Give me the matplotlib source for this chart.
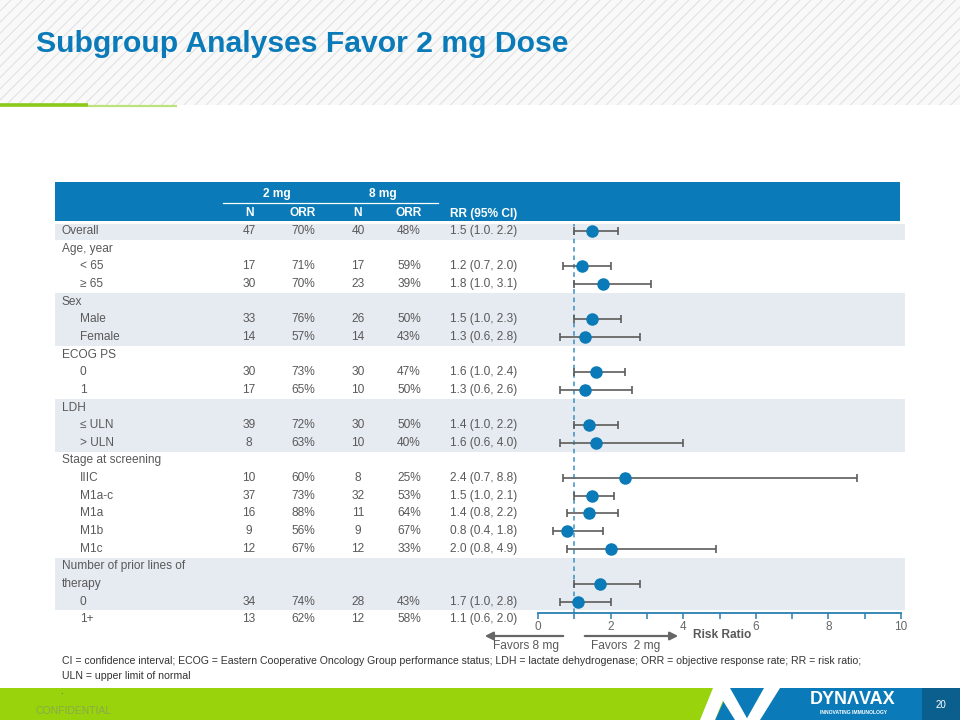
import matplotlib.pyplot as plt
from matplotlib.patches import Rectangle, Polygon

plt.rcParams['font.family'] = ['Liberation Sans', 'DejaVu Sans']
plt.rcParams['hatch.linewidth'] = 0.8

# ---- data ----
labels = ["Overall", "Age, year", "< 65", "\u2265 65", "Sex", "Male", "Female",
          "ECOG PS", "0", "1", "LDH", "\u2264 ULN", "> ULN", "Stage at screening",
          "IIIC", "M1a-c", "M1a", "M1b", "M1c",
          "Number of prior lines of\ntherapy", "0", "1+"]
sub = [0, 0, 1, 1, 0, 1, 1, 0, 1, 1, 0, 1, 1, 0, 1, 1, 1, 1, 1, 0, 1, 1]
n_2mg = [47, None, 17, 30, None, 33, 14, None, 30, 17, None, 39, 8, None,
         10, 37, 16, 9, 12, None, 34, 13]
orr_2mg = [70, None, 71, 70, None, 76, 57, None, 73, 65, None, 72, 63, None,
           60, 73, 88, 56, 67, None, 74, 62]
n_8mg = [40, None, 17, 23, None, 26, 14, None, 30, 10, None, 30, 10, None,
         8, 32, 11, 9, 12, None, 28, 12]
orr_8mg = [48, None, 59, 39, None, 50, 43, None, 47, 50, None, 50, 40, None,
           25, 53, 64, 67, 33, None, 43, 58]
rr = [1.5, None, 1.2, 1.8, None, 1.5, 1.3, None, 1.6, 1.3, None, 1.4, 1.6, None,
      2.4, 1.5, 1.4, 0.8, 2.0, None, 1.7, 1.1]
rr_lo = [1.0, None, 0.7, 1.0, None, 1.0, 0.6, None, 1.0, 0.6, None, 1.0, 0.6, None,
         0.7, 1.0, 0.8, 0.4, 0.8, None, 1.0, 0.6]
rr_hi = [2.2, None, 2.0, 3.1, None, 2.3, 2.8, None, 2.4, 2.6, None, 2.2, 4.0, None,
         8.8, 2.1, 2.2, 1.8, 4.9, None, 2.8, 2.0]
rr_text = ["1.5 (1.0. 2.2)", "", "1.2 (0.7, 2.0)", "1.8 (1.0, 3.1)", "",
           "1.5 (1.0, 2.3)", "1.3 (0.6, 2.8)", "", "1.6 (1.0, 2.4)", "1.3 (0.6, 2.6)",
           "", "1.4 (1.0, 2.2)", "1.6 (0.6, 4.0)", "", "2.4 (0.7, 8.8)",
           "1.5 (1.0, 2.1)", "1.4 (0.8, 2.2)", "0.8 (0.4, 1.8)", "2.0 (0.8, 4.9)",
           "", "1.7 (1.0, 2.8)", "1.1 (0.6, 2.0)"]
x_ticks = [0, 1, 2, 3, 4, 5, 6, 7, 8, 9, 10]

W, H = 960, 720
BLUE = '#0a7bb8'
DARKBLUE = '#0b5f8e'
GREEN = '#98d30c'
SHADE = '#e6eaf1'
TXT = '#595959'
PITCH = 17.65      # px per table line
ROW0 = 231         # px of first row


def px_box(x0, y0, x1, y1):
    return [x0 / W, 1 - y1 / H, (x1 - x0) / W, (y1 - y0) / H]


def to_row(py):
    return (py - ROW0) / PITCH


fig = plt.figure(figsize=(9.6, 7.2), dpi=100)

# slide background (pixel coordinates)
bg = fig.add_axes([0, 0, 1, 1])
bg.set_xlim(0, W)
bg.set_ylim(H, 0)
bg.axis('off')
bg.add_patch(Rectangle((0, 0), W, 105, facecolor='#f9f9f9', edgecolor='#e2e2e2',
                       hatch='///', linewidth=0))
bg.plot([0, 88], [104.5, 104.5], color='#8cc919', lw=2.6, solid_capstyle='butt')
bg.plot([88, 177], [105.5, 105.5], color='#bde27a', lw=1.6, solid_capstyle='butt')
bg.text(36, 52, "Subgroup Analyses Favor 2 mg Dose", fontsize=21.7, fontweight='bold',
        color=BLUE, va='baseline', ha='left')

# table header
bg.add_patch(Rectangle((55, 182), 845, 39, facecolor=BLUE, edgecolor='none'))
bg.text(277, 194, "2 mg", color='white', fontsize=8.6, fontweight='bold', ha='center', va='center')
bg.text(383, 194, "8 mg", color='white', fontsize=8.6, fontweight='bold', ha='center', va='center')
bg.plot([223, 438], [203, 203], color='white', lw=0.9)
for hx, ht in [(249, "N"), (303, "ORR"), (358, "N"), (409, "ORR")]:
    bg.text(hx, 213.5, ht, color='white', fontsize=8.6, fontweight='bold', ha='center', va='center')
bg.text(450, 213.5, "RR (95% CI)", color='white', fontsize=8.6, fontweight='bold', ha='left', va='center')

# table body (row units)
tab = fig.add_axes(px_box(55, 224, 905, 628.5))
tab.set_xlim(55, 905)
tab.set_ylim(to_row(628.5), to_row(224))
tab.axis('off')
tab.patch.set_alpha(0)

# shading: alternate groups, spans counted in data rows
starts = [i for i, s in enumerate(sub) if s == 0] + [len(labels)]
for g in range(0, len(starts) - 1, 2):
    tab.axhspan(starts[g] - 0.5, starts[g + 1] - 0.5, color=SHADE, lw=0)

line = 0
for i, lab in enumerate(labels):
    parts = lab.split('\n')
    for k, part in enumerate(parts):
        tab.text(80 if sub[i] else 62, line + k, part, fontsize=8.6, color=TXT,
                 ha='left', va='center')
    line += len(parts) - 1
    if n_2mg[i] is not None:
        tab.text(249, line, str(n_2mg[i]), fontsize=8.6, color=TXT, ha='center', va='center')
        tab.text(303, line, f"{orr_2mg[i]}%", fontsize=8.6, color=TXT, ha='center', va='center')
        tab.text(358, line, str(n_8mg[i]), fontsize=8.6, color=TXT, ha='center', va='center')
        tab.text(409, line, f"{orr_8mg[i]}%", fontsize=8.6, color=TXT, ha='center', va='center')
        tab.text(450, line, rr_text[i], fontsize=8.6, color=TXT, ha='left', va='center')
    line += 1

# forest plot
ax = fig.add_axes(px_box(538, 224, 901, 613))
ax.patch.set_alpha(0)
ax.set_xlim(0, 10)
ax.set_ylim(to_row(613), to_row(224))
ys = [i for i in range(len(rr)) if rr[i] is not None]
xv = [rr[i] for i in ys]
err = [[rr[i] - rr_lo[i] for i in ys], [rr_hi[i] - rr[i] for i in ys]]
ax.axvline(1, color='#3b8fc0', lw=1.1, ls=(0, (3, 2.5)), zorder=1)
ax.errorbar(xv, ys, xerr=err, fmt='none', ecolor='#5c5c5c', elinewidth=1.2,
            capsize=2.6, capthick=1.2, zorder=2)
ax.plot(xv, ys, 'o', color=BLUE, markersize=8, zorder=3)
for s in ['top', 'right', 'left']:
    ax.spines[s].set_visible(False)
ax.spines['bottom'].set_color('#2b7fb0')
ax.spines['bottom'].set_linewidth(1.3)
ax.set_yticks([])
ax.set_xticks(x_ticks)
ax.set_xticklabels([str(t) if t % 2 == 0 else '' for t in x_ticks])
ax.tick_params(axis='x', direction='out', length=4, width=1.1, color='#2b7fb0',
               labelcolor='#666666', labelsize=8.5, pad=1.5)

# favors arrows and axis title
bg.annotate('', xy=(482, 636), xytext=(566, 636),
            arrowprops=dict(arrowstyle='-|>', color='#666666', lw=1.6, mutation_scale=12))
bg.annotate('', xy=(681, 636), xytext=(582, 636),
            arrowprops=dict(arrowstyle='-|>', color='#666666', lw=1.6, mutation_scale=12))
bg.text(526, 646, "Favors 8 mg", fontsize=8.6, color=TXT, ha='center', va='center')
bg.text(626, 646, "Favors  2 mg", fontsize=8.6, color=TXT, ha='center', va='center')
bg.text(722, 635, "Risk Ratio", fontsize=8.6, color=TXT, fontweight='bold', ha='center', va='center')

# footnote
bg.text(62, 661, "CI = confidence interval; ECOG = Eastern Cooperative Oncology Group performance "
        "status; LDH = lactate dehydrogenase; ORR = objective response rate; RR = risk ratio;",
        fontsize=7.6, color='#333333', ha='left', va='center')
bg.text(62, 676, "ULN = upper limit of normal", fontsize=7.6, color='#333333', ha='left', va='center')

# footer bar and logo
bg.add_patch(Rectangle((0, 688), W, 32, facecolor=GREEN, edgecolor='none'))
bg.text(60, 691, ".", fontsize=7, color='#555555', ha='left', va='center')
bg.text(36, 711, "CONFIDENTIAL", fontsize=7.5, color='#8aab4a', ha='left', va='center')
bg.add_patch(Polygon([(730, 688), (922, 688), (922, 720), (715, 720)], closed=True,
                     facecolor=BLUE, edgecolor='none'))
bg.add_patch(Rectangle((922, 688), 38, 32, facecolor=DARKBLUE, edgecolor='none'))
bg.add_patch(Polygon([(700, 720), (715, 720), (728, 688), (713, 688)], closed=True,
                     facecolor='white', edgecolor='none'))
bg.add_patch(Polygon([(715, 688), (730, 688), (748, 720), (735, 720)], closed=True,
                     facecolor='white', edgecolor='none'))
bg.add_patch(Polygon([(764, 688), (780, 688), (760, 720), (746, 720)], closed=True,
                     facecolor='white', edgecolor='none'))
bg.text(853, 700, "DYN\u039bVAX", fontsize=13, color='white', fontweight='bold',
        ha='center', va='center')
bg.text(853, 713, "INNOVATING IMMUNOLOGY", fontsize=3.6, color='white', fontweight='bold',
        ha='center', va='center')
bg.text(941, 705, "20", fontsize=7, color='white', ha='center', va='center')

fig.savefig('out.png', dpi=100)
